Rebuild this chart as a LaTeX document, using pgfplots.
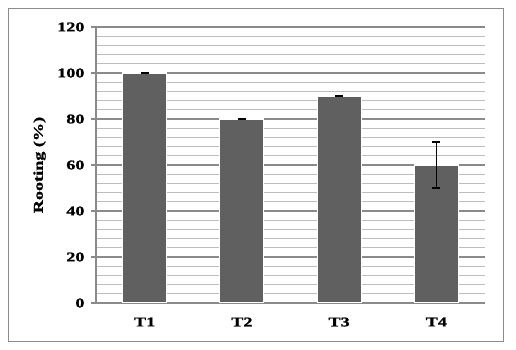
\documentclass[border=0pt]{standalone}
\usepackage{fontspec}
\setmainfont{Liberation Serif}[FakeStretch=1.35, BoldFeatures={FakeBold=1.2}]
\usepackage{pgfplots}
\pgfplotsset{compat=1.18}
\definecolor{barc}{HTML}{606060}
\definecolor{majg}{HTML}{8A8A8A}
\definecolor{ming}{HTML}{BDBDBD}
\begin{document}
\begin{tikzpicture}
\path[use as bounding box] (0,0) rectangle (516bp,350bp);
\draw[color=black!45, line width=1bp] (8.5bp,8.5bp) rectangle (503bp,341.5bp);
\begin{axis}[
  at={(96bp,47bp)}, anchor=south west,
  scale only axis, width=389bp, height=276bp,
  xmin=-0.5, xmax=3.5, ymin=0, ymax=120,
  axis x line*=bottom, axis y line*=left,
  axis line style={-, color=majg, line width=1.2bp},
  xtick=data, xticklabels={T1,T2,T3,T4},
  ytick={0,20,...,120}, minor ytick={4,8,...,116},
  ymajorgrids, yminorgrids,
  major grid style={majg, line width=1.3bp},
  minor grid style={ming, line width=1.3bp},
  tick align=outside,
  x tick style={draw=none},
  y tick style={majg, line width=1.2bp},
  major tick length=5bp, minor tick length=0bp,
  tick label style={font=\fontsize{13.5}{13.5}\selectfont\bfseries},
  /pgf/number format/assume math mode=true,
  yticklabel style={xshift=-3bp},
  xticklabel style={yshift=-6bp},
  ylabel={Rooting (\%)},
  ylabel style={font=\fontsize{13.5}{13.5}\selectfont\bfseries, at={(axis description cs:-0.145,0.5)}, anchor=center},
]
\addplot[ybar, bar width=44bp, fill=barc, draw=white, line width=1.2bp,
  error bars/.cd, y dir=both, y explicit,
  error bar style={black, line width=1.3bp},
  error mark options={rotate=90, mark size=4bp, black, line width=1.3bp}]
  coordinates {(0,100) +- (0,0.15) (1,80) +- (0,0.15) (2,90) +- (0,0.15) (3,60) +- (0,10)};
\end{axis}
\end{tikzpicture}
\end{document}
